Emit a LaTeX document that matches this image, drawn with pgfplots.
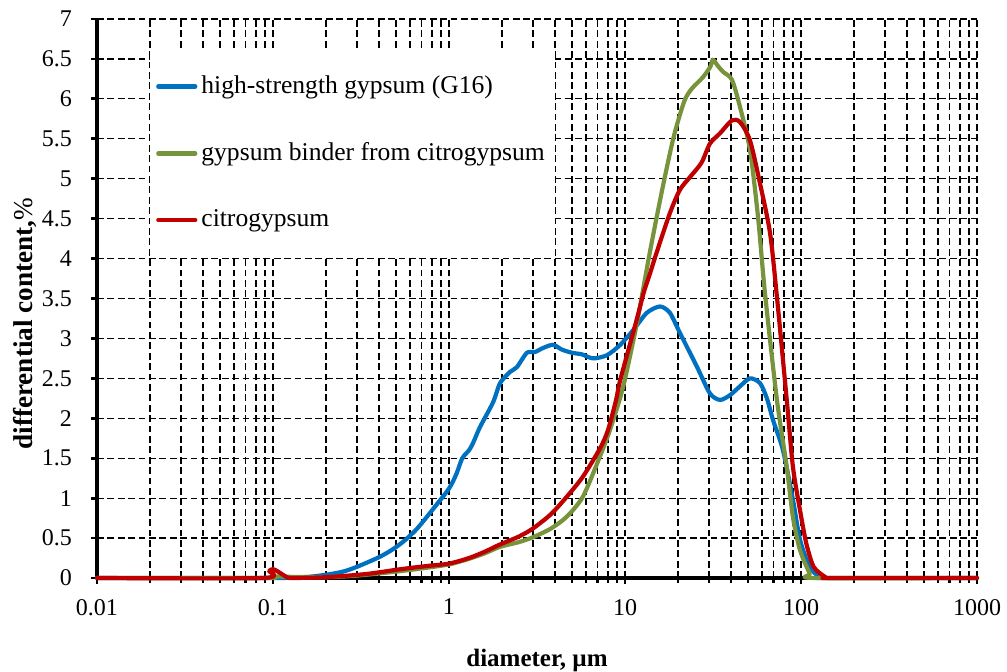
\documentclass[border=0pt]{standalone}
\usepackage{fontspec}
\setmainfont{Liberation Serif}
\usepackage{pgfplots}
\pgfplotsset{compat=1.18}
\definecolor{cblue}{HTML}{0070C0}
\definecolor{cgreen}{HTML}{77933C}
\definecolor{cred}{HTML}{C00000}
\begin{document}
\begin{tikzpicture}
\useasboundingbox (-48.5pt,-47pt) rectangle (455pt,289pt);
\begin{axis}[
  scale only axis,
  width=440pt, height=279.5pt,
  xmode=log,
  xmin=0.01, xmax=1000,
  ymin=0, ymax=7,
  axis x line=bottom, axis y line=left,
  axis line style={-, line width=1.8pt, black},
  xtick={0.01,0.1,1,10,100,1000},
  xticklabels={0.01,0.1,1,10,100,1000},
  minor xtick={0.02,0.03,0.04,0.05,0.06,0.07,0.08,0.09,0.2,0.3,0.4,0.5,0.6,0.7,0.8,0.9,2,3,4,5,6,7,8,9,20,30,40,50,60,70,80,90,200,300,400,500,600,700,800,900},
  ytick={0,0.5,...,7},
  minor ytick={},
  /pgf/number format/assume math mode=true,
  tick label style={font=\fontsize{12}{14}\selectfont},
  xticklabel style={yshift=-4pt},
  yticklabel style={xshift=-6pt},
  tick align=outside,
  major tick length=3pt, minor tick length=2.5pt,
  every tick/.style={black, line width=1.4pt},
  grid=both,
  major grid style={black, line width=0.6pt, dash pattern=on 3.4pt off 1.8pt},
  minor grid style={black, line width=0.6pt, dash pattern=on 3.4pt off 1.8pt},
  xlabel={\textbf{diameter, µm}},
  ylabel={\textbf{differential content,}\%},
  xlabel style={font=\fontsize{12.5}{14}\selectfont, at={(axis description cs:0.5,-0.147)}, anchor=center},
  ylabel style={font=\fontsize{13.6}{15}\selectfont, at={(axis description cs:-0.082,0.455)}, anchor=center},
  clip=false,
  legend cell align=left,
  legend style={at={(rel axis cs:0.06,0.945)}, anchor=north west,
    fill=white, draw=none, font=\fontsize{12.8}{15}\selectfont,
    row sep=19pt, inner xsep=3pt, inner ysep=11pt},
  legend image code/.code={\draw[#1] (0pt,0pt) -- (18.5pt,0pt);},
  every axis plot/.append style={line width=2.1pt, line join=round, line cap=round, smooth, tension=0.45},
]
\addplot[cblue] coordinates {
(0.01,0) (0.1,0) (0.15,0.01) (0.2,0.04) (0.25,0.08) (0.3,0.14) (0.4,0.26) (0.48,0.36) (0.56,0.47) (0.66,0.62) (0.81,0.86) (1.0,1.12) (1.1,1.3) (1.19,1.5) (1.3,1.6) (1.37,1.69) (1.5,1.89) (1.78,2.2) (1.95,2.44) (2.22,2.58) (2.43,2.64) (2.77,2.82) (3.08,2.83) (3.42,2.88) (3.9,2.92) (4.38,2.86) (5.0,2.82) (5.7,2.8) (6.58,2.75) (7.9,2.79) (9.4,2.92) (11.1,3.1) (13.3,3.32) (15.8,3.4) (18.0,3.32) (20.5,3.07) (25.7,2.64) (30.4,2.31) (34.7,2.23) (39.5,2.29) (45,2.4) (51.3,2.5) (58.5,2.44) (64,2.25) (69.3,1.98) (79,1.6) (90,0.98) (98.7,0.48) (112,0.14) (128,0.01) (140,0) (1000,0)
};
\addlegendentry{high-strength gypsum (G16)}
\addplot[cgreen] coordinates {
(0.01,0) (0.09,0) (0.1,0.02) (0.12,0.015) (0.2,0.01) (0.3,0.03) (0.5,0.08) (0.7,0.12) (1.0,0.17) (1.3,0.24) (1.6,0.31) (1.95,0.39) (2.5,0.45) (3.0,0.51) (3.8,0.62) (4.68,0.77) (5.77,1.02) (7.2,1.52) (8.2,1.85) (9.75,2.39) (11.7,3.2) (13.9,4.1) (16.4,4.9) (18.7,5.48) (20.5,5.8) (22,6.0) (24,6.13) (27.7,6.27) (30.5,6.4) (31.6,6.49) (33.5,6.42) (36,6.34) (40.5,6.24) (45,5.9) (51.3,5.36) (57,4.52) (62.4,3.57) (73,2.23) (83,1.39) (90,0.76) (98.7,0.35) (112,0.06) (120,0) (1000,0)
};
\addlegendentry{gypsum binder from citrogypsum}
\addplot[cred] coordinates {
(0.01,0) (0.088,0) (0.095,0.09) (0.1,0.11) (0.105,0.09) (0.12,0.01) (0.13,0) (0.2,0.01) (0.34,0.05) (0.53,0.11) (0.75,0.15) (1.0,0.18) (1.3,0.25) (1.6,0.33) (1.95,0.42) (2.5,0.52) (3.0,0.62) (3.8,0.8) (4.68,1.02) (5.77,1.27) (7.2,1.62) (8.0,1.85) (8.9,2.23) (9.4,2.48) (11.7,3.25) (12.8,3.58) (13.9,3.82) (15.1,4.07) (18,4.57) (20.5,4.86) (23.4,5.02) (27.2,5.2) (30.4,5.44) (34.7,5.57) (40.5,5.73) (45,5.71) (51.3,5.48) (58.5,4.94) (66.7,4.32) (73,3.52) (83,2.23) (90,1.39) (98.7,0.85) (107,0.44) (118,0.14) (138,0.01) (150,0) (1000,0)
};
\addlegendentry{citrogypsum}
\end{axis}
\end{tikzpicture}
\end{document}
